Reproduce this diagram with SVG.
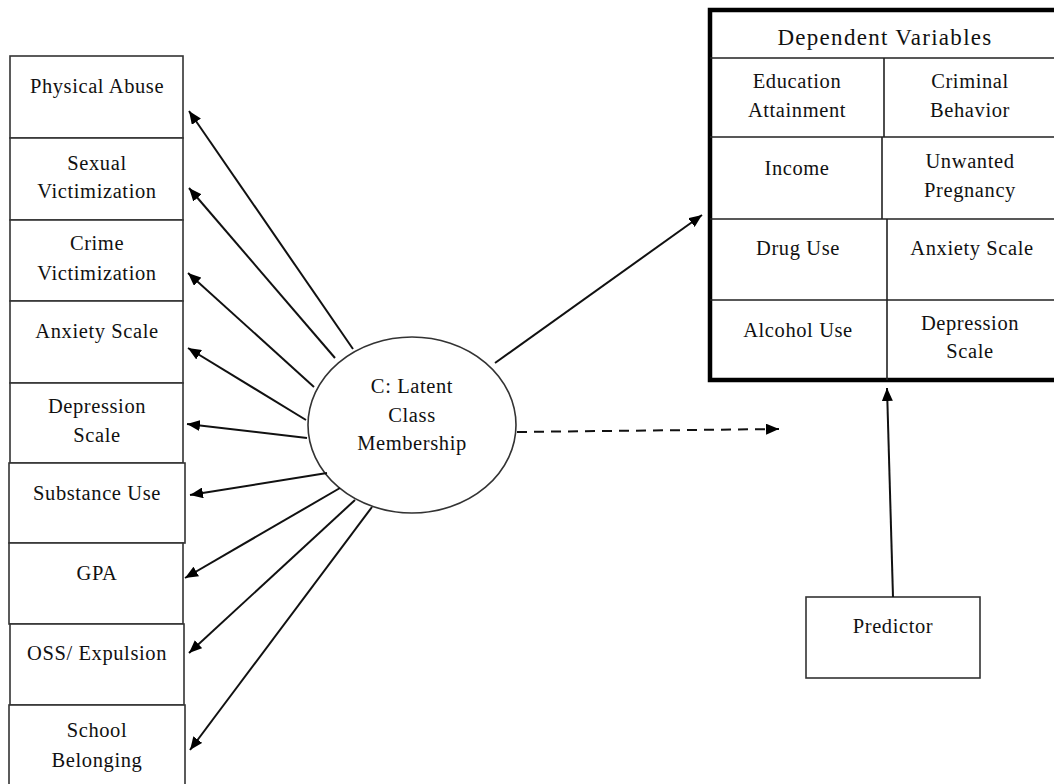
<svg xmlns="http://www.w3.org/2000/svg" width="1054" height="784" viewBox="0 0 1054 784">
  <style>
    .box { fill: #fff; stroke: #333; stroke-width: 1.6; }
    .cellline { stroke: #222; stroke-width: 1.6; fill: none; }
    .frame { fill: #fff; stroke: #000; stroke-width: 4.5; }
    .lbl { font-family: "Liberation Serif", "Times New Roman", serif; font-size: 20.5px; letter-spacing: 0.6px; fill: #111; text-anchor: middle; }
    .title { font-size: 23px; letter-spacing: 1.3px; }
    .edge { stroke: #111; stroke-width: 2; fill: none; marker-end: url(#arrow); }
    .dash { stroke-dasharray: 10 7; }
  </style>
  <defs>
    <marker id="arrow" markerUnits="userSpaceOnUse" markerWidth="13" markerHeight="11" refX="13" refY="5.5" orient="auto">
      <path d="M0,0 L13,5.5 L0,11 z" fill="#000"/>
    </marker>
  </defs>
  <rect width="1054" height="784" fill="#fff"/>

  <!-- indicator boxes -->
  <g id="physical-abuse">
    <rect class="box" x="10" y="56" width="173" height="82"/>
    <text class="lbl" x="97" y="93">Physical Abuse</text>
  </g>
  <g id="sexual-victimization">
    <rect class="box" x="10" y="138" width="173" height="82"/>
    <text class="lbl" x="97" y="170">Sexual</text>
    <text class="lbl" x="97" y="198">Victimization</text>
  </g>
  <g id="crime-victimization">
    <rect class="box" x="10" y="220" width="173" height="81"/>
    <text class="lbl" x="97" y="250">Crime</text>
    <text class="lbl" x="97" y="280">Victimization</text>
  </g>
  <g id="anxiety-scale">
    <rect class="box" x="10" y="301" width="173" height="82"/>
    <text class="lbl" x="97" y="338">Anxiety Scale</text>
  </g>
  <g id="depression-scale">
    <rect class="box" x="10" y="383" width="173" height="80"/>
    <text class="lbl" x="97" y="413">Depression</text>
    <text class="lbl" x="97" y="442">Scale</text>
  </g>
  <g id="substance-use">
    <rect class="box" x="9" y="463" width="176" height="80"/>
    <text class="lbl" x="97" y="500">Substance Use</text>
  </g>
  <g id="gpa">
    <rect class="box" x="9" y="543" width="174" height="81"/>
    <text class="lbl" x="97" y="580">GPA</text>
  </g>
  <g id="oss-expulsion">
    <rect class="box" x="10" y="624" width="174" height="81"/>
    <text class="lbl" x="97" y="660">OSS/ Expulsion</text>
  </g>
  <g id="school-belonging">
    <rect class="box" x="9" y="705" width="176" height="82"/>
    <text class="lbl" x="97" y="737">School</text>
    <text class="lbl" x="97" y="767">Belonging</text>
  </g>

  <!-- latent class -->
  <g id="latent-class">
    <ellipse class="box" cx="412" cy="425" rx="104" ry="88"/>
    <text class="lbl" x="412" y="393">C: Latent</text>
    <text class="lbl" x="412" y="422">Class</text>
    <text class="lbl" x="412" y="450">Membership</text>
  </g>

  <!-- outcome table -->
  <g id="dependent-variables">
    <rect class="frame" x="710" y="10" width="352" height="370"/>
    <path class="cellline" d="M710,58 H1054 M710,137 H1054 M710,219 H1054 M710,300 H1054"/>
    <path class="cellline" d="M884,58 V137 M882,137 V219 M887,219 V380"/>
    <text class="lbl title" x="885" y="45">Dependent Variables</text>
    <text class="lbl" x="797" y="88">Education</text>
    <text class="lbl" x="797" y="117">Attainment</text>
    <text class="lbl" x="970" y="88">Criminal</text>
    <text class="lbl" x="970" y="117">Behavior</text>
    <text class="lbl" x="797" y="175">Income</text>
    <text class="lbl" x="970" y="168">Unwanted</text>
    <text class="lbl" x="970" y="197">Pregnancy</text>
    <text class="lbl" x="798" y="255">Drug Use</text>
    <text class="lbl" x="972" y="255">Anxiety Scale</text>
    <text class="lbl" x="798" y="337">Alcohol Use</text>
    <text class="lbl" x="970" y="330">Depression</text>
    <text class="lbl" x="970" y="358">Scale</text>
  </g>

  <!-- predictor -->
  <g id="predictor">
    <rect class="box" x="806" y="597" width="174" height="81"/>
    <text class="lbl" x="893" y="633">Predictor</text>
  </g>

  <!-- connectors -->
  <g id="connectors">
    <line class="edge" x1="353" y1="349" x2="189" y2="111"/>
    <line class="edge" x1="335" y1="358" x2="189" y2="188"/>
    <line class="edge" x1="314" y1="387" x2="188" y2="273"/>
    <line class="edge" x1="306" y1="420" x2="188" y2="348"/>
    <line class="edge" x1="307" y1="438" x2="187" y2="424"/>
    <line class="edge" x1="327" y1="473" x2="190" y2="495"/>
    <line class="edge" x1="340" y1="488" x2="185" y2="578"/>
    <line class="edge" x1="355" y1="500" x2="189" y2="653"/>
    <line class="edge" x1="372" y1="507" x2="190" y2="750"/>
    <line class="edge" x1="495" y1="363" x2="702" y2="215"/>
    <line class="edge dash" x1="517" y1="432" x2="779" y2="429"/>
    <line class="edge" x1="893" y1="597" x2="887" y2="388"/>
  </g>
</svg>
